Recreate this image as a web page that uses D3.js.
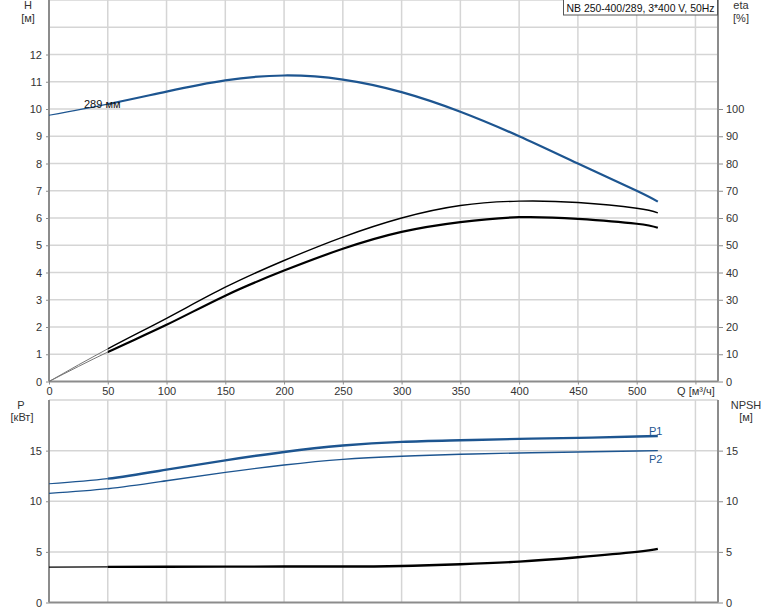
<!DOCTYPE html>
<html><head><meta charset="utf-8">
<script src="https://cdn.jsdelivr.net/npm/d3@7"></script>
<style>
body{margin:0;background:#fff;}
svg{display:block;font-family:"Liberation Sans",Arial,sans-serif;}
</style></head>
<body><svg id="c" width="774" height="611"></svg>
<script>
// ---- data ----
const title = "NB 250-400/289, 3*400 V, 50Hz";
const impellerLabel = "289 мм";
const qPts = [0, 50, 100, 150, 200, 250, 300, 350, 400, 450, 500, 518];
const headH = [9.77, 10.18, 10.64, 11.05, 11.23, 11.08, 10.62, 9.9, 9.0, 8.0, 7.0, 6.6];
const etaPump = [0, 12.0, 23.2, 34.6, 44.4, 53.0, 60.0, 64.6, 66.2, 65.7, 63.6, 61.9];
const etaTotal = [0, 10.8, 20.8, 31.5, 40.7, 48.7, 54.9, 58.5, 60.3, 59.7, 57.9, 56.4];
const powerP1 = [11.73, 12.23, 13.12, 14.04, 14.87, 15.5, 15.86, 16.02, 16.16, 16.26, 16.39, 16.45];
const powerP2 = [10.77, 11.24, 12.03, 12.85, 13.58, 14.14, 14.44, 14.64, 14.77, 14.87, 14.97, 15.0];
const npsh = [3.49, 3.52, 3.53, 3.54, 3.55, 3.55, 3.61, 3.78, 4.04, 4.47, 5.0, 5.3];
const qTicks = [0, 50, 100, 150, 200, 250, 300, 350, 400, 450, 500, 550];
const hTicks = [0, 1, 2, 3, 4, 5, 6, 7, 8, 9, 10, 11, 12];
const hGrid = [1, 2, 3, 4, 5, 6, 7, 8, 9, 10, 11, 12, 13, 14];
const etaTicks = [0, 10, 20, 30, 40, 50, 60, 70, 80, 90, 100];
const pTicks = [0, 5, 10, 15];
const pGrid = [5, 10, 15, 20];
const qStartThick = 50;
const qMax = 569.2;

// ---- layout ----
const svg = d3.select("#c");
const L = 49, R = 718, T1 = 0, B1 = 381.5, T2 = 400, B2 = 602.5;
const x = d3.scaleLinear().domain([0, qMax]).range([L, R]);
const yH = d3.scaleLinear().domain([0, 14]).range([B1, T1]);
const yEta = d3.scaleLinear().domain([0, 140]).range([B1, T1]);
const yP = d3.scaleLinear().domain([0, 20]).range([B2, T2]);

const gridC = "#d5d5d5", axisC = "#8c8c8c", txtC = "#333";
const blue = "#1d5590";

function grid(yScale, vals, top, bottom) {
  svg.append("g").selectAll("line.h").data(vals).join("line")
    .attr("x1", L).attr("x2", R).attr("y1", d => yScale(d)).attr("y2", d => yScale(d))
    .attr("stroke", gridC).attr("stroke-width", 1.5);
  svg.append("g").selectAll("line.v").data(qTicks.slice(1)).join("line")
    .attr("x1", d => x(d)).attr("x2", d => x(d)).attr("y1", top).attr("y2", bottom)
    .attr("stroke", gridC).attr("stroke-width", 1.5);
}
grid(yH, hGrid, T1, B1);
grid(yP, pGrid, T2, B2);

function styleAxis(g) {
  g.select(".domain").remove();
  g.selectAll(".tick line").attr("stroke", axisC).attr("stroke-width", 1);
  g.selectAll("text").attr("fill", txtC).attr("font-size", 11)
    .attr("font-family", "'Liberation Sans', Arial, sans-serif");
}
// top panel axes
svg.append("g").attr("transform", `translate(${L},0)`)
  .call(d3.axisLeft(yH).tickValues(hTicks).tickFormat(d3.format("d")).tickSize(3).tickPadding(4)).call(styleAxis);
svg.append("g").attr("transform", `translate(${R},0)`)
  .call(d3.axisRight(yEta).tickValues(etaTicks).tickFormat(d3.format("d")).tickSize(5).tickPadding(3)).call(styleAxis);
svg.append("g").attr("transform", `translate(0,${B1})`)
  .call(d3.axisBottom(x).tickValues(qTicks).tickFormat(d => d === 550 ? "Q [м³/ч]" : d).tickSize(3).tickPadding(3)).call(styleAxis);
// bottom panel axes
svg.append("g").attr("transform", `translate(${L},0)`)
  .call(d3.axisLeft(yP).tickValues(pTicks).tickFormat(d3.format("d")).tickSize(3).tickPadding(4)).call(styleAxis);
svg.append("g").attr("transform", `translate(${R},0)`)
  .call(d3.axisRight(yP).tickValues(pTicks).tickFormat(d3.format("d")).tickSize(5).tickPadding(3)).call(styleAxis);

// axis frame lines
const frame = [[L, T1, L, B1], [L, B1, R, B1], [R, T1, R, B1], [L, T2, L, B2], [L, B2, R, B2], [R, T2, R, B2]];
svg.append("g").selectAll("line").data(frame).join("line")
  .attr("x1", d => d[0]).attr("y1", d => d[1]).attr("x2", d => d[2]).attr("y2", d => d[3])
  .attr("stroke", axisC).attr("stroke-width", 2);

// axis titles
function label(txt, xx, yy) {
  svg.append("text").attr("x", xx).attr("y", yy).attr("text-anchor", "middle")
    .attr("font-size", 11).attr("fill", txtC).text(txt);
}
label("H", 28, 9); label("[м]", 28, 22);
label("eta", 741, 9); label("[%]", 741, 22);
label("P", 21, 409); label("[кВт]", 22, 421);
label("NPSH", 746, 409); label("[м]", 746, 421);

// clips
const defs = svg.append("defs");
defs.append("clipPath").attr("id", "thin").append("rect")
  .attr("x", 0).attr("y", 0).attr("width", x(qStartThick)).attr("height", 611);
defs.append("clipPath").attr("id", "thick").append("rect")
  .attr("x", x(qStartThick)).attr("y", 0).attr("width", 774).attr("height", 611);

function curve(vals, yScale, color, thinW, thickW, thinColor) {
  const data = qPts.map((q, i) => [q, vals[i]]);
  const line = d3.line().x(d => x(d[0])).y(d => yScale(d[1])).curve(d3.curveNatural);
  svg.append("path").attr("d", line(data)).attr("fill", "none")
    .attr("stroke", thinColor || color).attr("stroke-width", thinW).attr("clip-path", "url(#thin)");
  svg.append("path").attr("d", line(data)).attr("fill", "none")
    .attr("stroke", color).attr("stroke-width", thickW).attr("clip-path", "url(#thick)")
    .attr("stroke-linecap", "butt");
}
curve(headH, yH, blue, 1.2, 2.2);
curve(etaPump, yEta, "#000", 1, 1.4, "#777");
curve(etaTotal, yEta, "#000", 1, 2.2, "#777");
curve(powerP1, yP, blue, 1.2, 2.4);
curve(powerP2, yP, blue, 1.2, 1.4);
curve(npsh, yP, "#000", 1.2, 2.4);

// curve labels
svg.append("text").attr("x", 84).attr("y", 108).attr("font-size", 11).attr("fill", "#111").text(impellerLabel);
svg.append("text").attr("x", 649).attr("y", 435).attr("font-size", 11).attr("fill", blue).text("P1");
svg.append("text").attr("x", 649).attr("y", 463).attr("font-size", 11).attr("fill", blue).text("P2");

// title box
const tb = svg.append("g");
tb.append("rect").attr("x", 563.5).attr("y", -1).attr("width", 154).attr("height", 16)
  .attr("fill", "#fff").attr("stroke", "#555").attr("stroke-width", 1);
tb.append("text").attr("x", 566.5).attr("y", 11.5).attr("font-size", 10.5).attr("fill", "#111")
  .attr("textLength", 148).attr("lengthAdjust", "spacingAndGlyphs").text(title);
</script></body></html>
